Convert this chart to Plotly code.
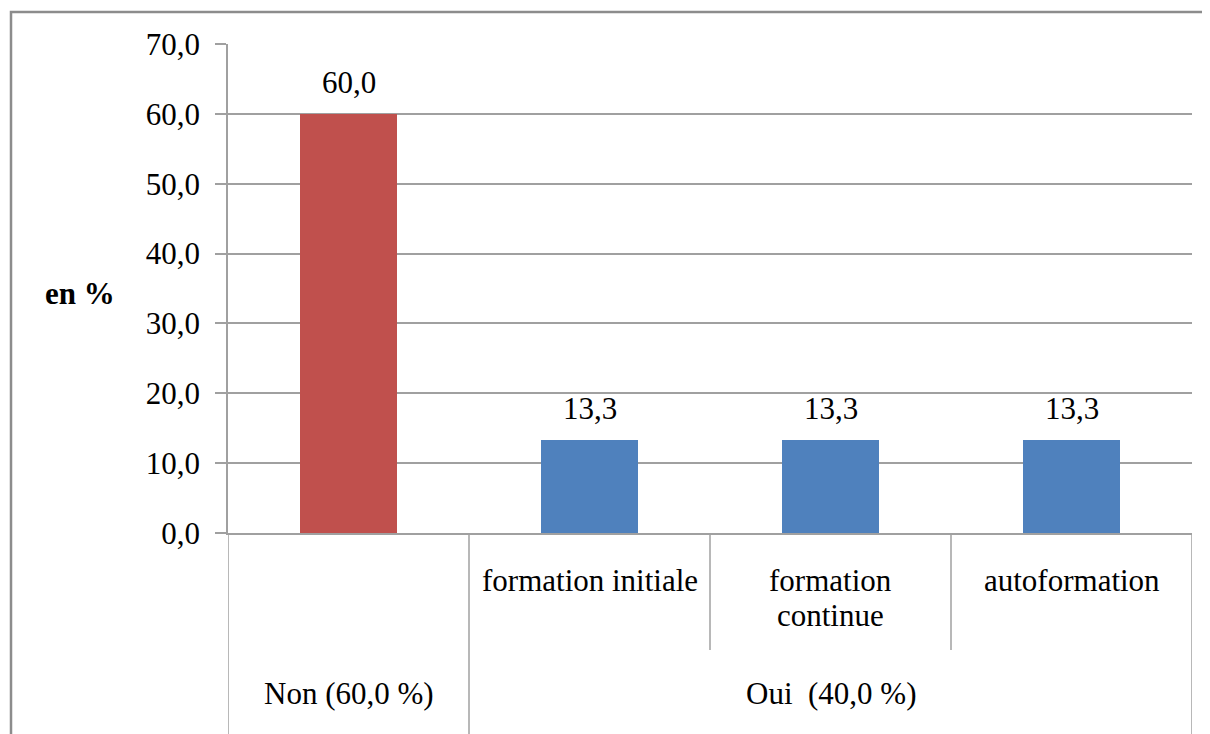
import plotly.graph_objects as go

# Data
inner_labels = ["", "formation initiale", "formation<br>continue", "autoformation"]
outer_labels = ["Non (60,0 %)", "Oui  (40,0 %)"]
outer_spans = [(0, 1), (1, 4)]
values = [60.0, 13.3, 13.3, 13.3]
colors = ["#C0504D", "#4F81BD", "#4F81BD", "#4F81BD"]
y_ticks = [0, 10, 20, 30, 40, 50, 60, 70]
y_title = "en %"

FONT = "Liberation Serif"
FS = 31
GRID = "#A0A0A0"
TXT = dict(family=FONT, size=FS, color="#000000")

OFF = 8
W, H = 1210 - OFF, 734 - OFF
PL, PR, PT, PB = 228, 1192, 44, 533
L, T = PL - OFF, PT - OFF
R = W - (PR - OFF)
B = H - (PB - OFF)
plot_h = PB - PT
plot_w = PR - PL


def py(page_y):
    return (PB - page_y) / plot_h


def px(page_x):
    return (page_x - PL) / plot_w


xs = [i + 0.5 for i in range(len(values))]

fig = go.Figure()
fig.add_trace(go.Bar(
    x=xs, y=values, width=0.4, marker_color=colors,
    marker_line_width=0, showlegend=False, hoverinfo="skip",
))

annotations = []
for x, v in zip(xs, values):
    annotations.append(dict(
        x=x, y=v, xref="x", yref="y", text=f"{v:.1f}".replace(".", ","),
        showarrow=False, xanchor="center", yanchor="bottom", yshift=12,
        font=TXT,
    ))
for x, lab in zip(xs, inner_labels):
    for k, line in enumerate(lab.split("<br>")):
        if line:
            annotations.append(dict(
                x=x, y=py(580 + 35 * k), xref="x", yref="paper", text=line,
                showarrow=False, xanchor="center", yanchor="middle", font=TXT,
            ))
for (a, b), lab in zip(outer_spans, outer_labels):
    annotations.append(dict(
        x=(a + b) / 2, y=py(693), xref="x", yref="paper", text=lab,
        showarrow=False, xanchor="center", yanchor="middle", font=TXT,
    ))
annotations.append(dict(
    x=px(80), y=py(293), xref="paper", yref="paper", text=f"<b>{y_title}</b>",
    showarrow=False, xanchor="center", yanchor="middle", font=TXT,
))

shapes = []
bounds_outer = sorted({s for span in outer_spans for s in span})
for xb in bounds_outer:
    shapes.append(dict(type="line", xref="x", yref="paper", x0=xb, x1=xb,
                       y0=0, y1=py(740), line=dict(color=GRID, width=1.5)))
for xb in range(1, len(values)):
    if xb not in bounds_outer:
        shapes.append(dict(type="line", xref="x", yref="paper", x0=xb, x1=xb,
                           y0=0, y1=py(650), line=dict(color=GRID, width=1.5)))
shapes.append(dict(type="rect", xref="paper", yref="paper",
                   x0=px(11), x1=px(1500), y0=py(1000), y1=py(12),
                   line=dict(color="#8C8C8C", width=2.5), layer="below"))

fig.update_layout(
    width=W, height=H,
    margin=dict(l=L, r=R, t=T, b=B),
    paper_bgcolor="white", plot_bgcolor="white",
    separators=", ",
    font=TXT,
    bargap=0,
    xaxis=dict(range=[0, 4], showticklabels=False, ticks="", showgrid=False,
               zeroline=False, showline=True, linecolor=GRID, linewidth=1.5,
               fixedrange=True),
    yaxis=dict(range=[0, 70], tickvals=y_ticks, tickformat=".1f",
               ticks="outside", ticklen=11, tickcolor=GRID, tickwidth=1.5,
               showline=True, linecolor=GRID, linewidth=1.5,
               showgrid=True, gridcolor=GRID, gridwidth=1.5, zeroline=False,
               ticklabelstandoff=9, tickfont=TXT),
    annotations=annotations,
    shapes=shapes,
)

fig.write_html("out.html")
